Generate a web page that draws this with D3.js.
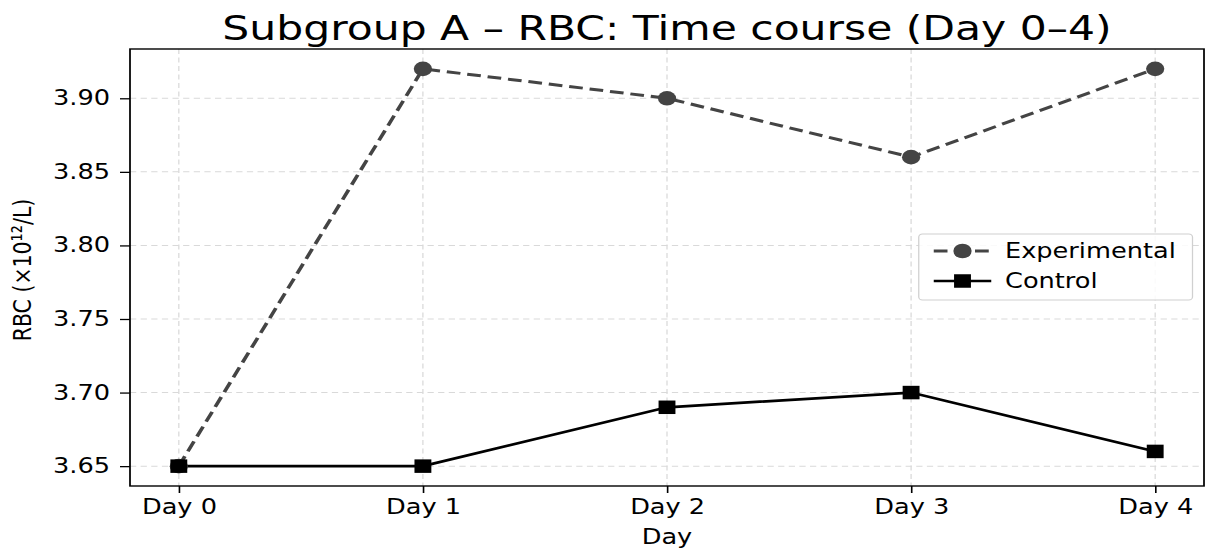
<!DOCTYPE html>
<html>
<head>
<meta charset="utf-8">
<script src="https://cdn.jsdelivr.net/npm/d3@7"></script>
<style>
  html, body { margin: 0; padding: 0; background: #fff; }
  svg { display: block; }
  text { font-family: "DejaVu Sans", sans-serif; fill: #000; }
</style>
</head>
<body>
<svg id="chart"></svg>
<script>
// Data
const days = ["Day 0", "Day 1", "Day 2", "Day 3", "Day 4"];
const experimental = [3.65, 3.92, 3.90, 3.86, 3.92];
const control = [3.65, 3.65, 3.69, 3.70, 3.66];
const yTicks = [3.65, 3.70, 3.75, 3.80, 3.85, 3.90];

// Canvas: drawn in a narrower internal space and stretched horizontally
const W = 1211, H = 553, SX = 1.25;
const IW = W / SX;
const svg = d3.select("#chart")
  .attr("width", W).attr("height", H)
  .attr("viewBox", `0 0 ${IW} ${H}`)
  .attr("preserveAspectRatio", "none");

const margin = { left: 104, right: IW - 963.2, top: 49, bottom: H - 486 };
const x = d3.scaleLinear().domain([-0.2, 4.2]).range([margin.left, IW - margin.right]);
const y = d3.scaleLinear().domain([3.6365, 3.9335]).range([H - margin.bottom, margin.top]);

const g = svg.append("g");

// Grid
g.append("g").selectAll("line.gx").data(days).join("line")
  .attr("x1", (d, i) => x(i)).attr("x2", (d, i) => x(i))
  .attr("y1", margin.top).attr("y2", H - margin.bottom)
  .attr("stroke", "#d9d9d9").attr("stroke-width", 1).attr("stroke-dasharray", "5,3.5");
g.append("g").selectAll("line.gy").data(yTicks).join("line")
  .attr("x1", margin.left).attr("x2", IW - margin.right)
  .attr("y1", d => y(d)).attr("y2", d => y(d))
  .attr("stroke", "#d9d9d9").attr("stroke-width", 1).attr("stroke-dasharray", "5,3.5");

// Axes
const xAxis = d3.axisBottom(x).tickValues(d3.range(days.length))
  .tickFormat(i => days[i]).tickSize(7).tickPadding(6);
const yAxis = d3.axisLeft(y).tickValues(yTicks)
  .tickFormat(d3.format(".2f")).tickSize(8).tickPadding(8);

const gx = g.append("g").attr("transform", `translate(0,${H - margin.bottom})`).call(xAxis);
const gy = g.append("g").attr("transform", `translate(${margin.left},0)`).call(yAxis);
[gx, gy].forEach(a => {
  a.select(".domain").remove();
  a.selectAll(".tick line").attr("stroke", "#000").attr("stroke-width", 1.3);
  a.selectAll(".tick text").attr("font-size", 20.5).attr("font-family", "DejaVu Sans").attr("fill", "#000");
});

// Frame
g.append("rect")
  .attr("x", margin.left).attr("y", margin.top)
  .attr("width", IW - margin.right - margin.left)
  .attr("height", H - margin.bottom - margin.top)
  .attr("fill", "none").attr("stroke", "#000").attr("stroke-width", 1.4);

// Lines
const line = d3.line().x((d, i) => x(i)).y(d => y(d));
g.append("path").datum(experimental).attr("d", line)
  .attr("fill", "none").attr("stroke", "#444").attr("stroke-width", 3)
  .attr("stroke-dasharray", "11,5.5");
g.append("path").datum(control).attr("d", line)
  .attr("fill", "none").attr("stroke", "#000").attr("stroke-width", 2.7);

// Markers
g.append("g").selectAll("circle").data(experimental).join("circle")
  .attr("cx", (d, i) => x(i)).attr("cy", d => y(d)).attr("r", 7.3).attr("fill", "#444");
const sq = 13.5;
g.append("g").selectAll("rect").data(control).join("rect")
  .attr("x", (d, i) => x(i) - sq / 2).attr("y", d => y(d) - sq / 2)
  .attr("width", sq).attr("height", sq).attr("fill", "#000");

// Title and axis labels
svg.append("text").attr("x", 667 / SX).attr("y", 40).attr("text-anchor", "middle")
  .attr("font-size", 34).text("Subgroup A – RBC: Time course (Day 0–4)");
svg.append("text").attr("x", 667 / SX).attr("y", 544).attr("text-anchor", "middle")
  .attr("font-size", 20.5).text("Day");
svg.append("text").attr("transform", `translate(${31 / SX},270) rotate(-90)`)
  .attr("text-anchor", "middle").attr("font-size", 20.5).attr("font-family", "Noto Sans")
  .text("RBC (×10¹²/L)");

// Legend
const lg = svg.append("g");
const lx = 735, ly = 234;
lg.append("rect").attr("x", lx).attr("y", ly).attr("width", 219).attr("height", 66)
  .attr("rx", 3).attr("fill", "#fff").attr("fill-opacity", 0.85)
  .attr("stroke", "#d0d0d0").attr("stroke-width", 1);
const items = [
  { name: "Experimental", color: "#444", dash: "11,5.5", w: 3, shape: "circle" },
  { name: "Control", color: "#000", dash: null, w: 2.7, shape: "square" }
];
items.forEach((it, k) => {
  const cy = ly + 17 + k * 30;
  lg.append("line").attr("x1", lx + 12).attr("x2", lx + 58).attr("y1", cy).attr("y2", cy)
    .attr("stroke", it.color).attr("stroke-width", it.w)
    .attr("stroke-dasharray", it.dash);
  if (it.shape === "circle") {
    lg.append("circle").attr("cx", lx + 35).attr("cy", cy).attr("r", 7.3).attr("fill", it.color);
  } else {
    lg.append("rect").attr("x", lx + 35 - sq / 2).attr("y", cy - sq / 2)
      .attr("width", sq).attr("height", sq).attr("fill", it.color);
  }
  lg.append("text").attr("x", lx + 69).attr("y", cy + 7).attr("font-size", 20.5).text(it.name);
});
</script>
</body>
</html>
